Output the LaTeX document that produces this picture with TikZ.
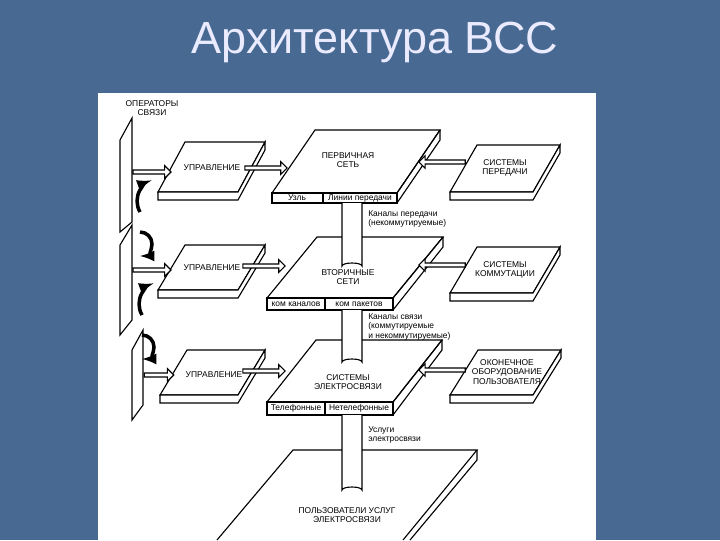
\documentclass[tikz,border=0pt]{standalone}
\usepackage{fontspec}
\setmainfont{Liberation Sans}
\usetikzlibrary{shapes.arrows}
\newcommand\myplate[6]{%
 \fill[white] (#1,#3) -- (#2,#3) -- ({#2+#4},{#3-#5}) -- ({#1+#4},{#3-#5}) -- cycle;
 \draw[thick] (#1,#3) -- (#2,#3) -- ({#2+#4},{#3-#5}) -- ({#1+#4},{#3-#5}) -- cycle;
 \draw[thick,fill=white] (#1,#3) -- (#1,{#3+#6}) -- (#2,{#3+#6}) -- ({#2+#4},{#3-#5+#6}) -- ({#2+#4},{#3-#5}) -- (#2,#3) -- cycle;}
\newcommand\mycyl[3]{%
 \fill[white] (#1,#2) rectangle ({#1+20},#3);
 \draw[thick] (#1,#2) -- (#1,#3) arc[start angle=180,end angle=360,x radius=10,y radius=3] -- ({#1+20},#2);}
\tikzset{lbl/.style={font=\fontsize{6}{6.8}\selectfont,align=center,inner sep=1pt},
 ann/.style={font=\fontsize{6}{6.8}\selectfont,align=left,anchor=north west,inner sep=0pt},
 barr/.style={single arrow,draw,thick,fill=white,minimum width=9pt,single arrow head extend=2pt,inner sep=0.5pt}}
\begin{document}
\begin{tikzpicture}[x=0.025cm,y=-0.025cm]
\fill[fill={rgb,255:red,72;green,106;blue,146}] (0,0) rectangle (720,540);
\useasboundingbox (0,0) rectangle (720,540);
\node[font=\fontsize{32}{36}\selectfont,text=white!92!blue] (title) at (375,42) {Архитектура ВСС};
\begin{scope}
\clip (98,93) rectangle (596,540);
\fill[white] (98,93) rectangle (596,540);
% operators panel
\draw[thick,fill=white] (120,232) -- (120,140) -- (132,118) -- (132,222) -- cycle;
\draw[thick,fill=white] (120,335) -- (120,245) -- (132,225) -- (132,320) -- cycle;
\draw[thick,fill=white] (132,420) -- (132,350) -- (143,330) -- (143,405) -- cycle;
\draw[line width=2.5pt,->,>=latex] (140,232) arc[start angle=-90,end angle=90,radius=12];
\draw[line width=2.5pt,->,>=latex] (140,212) arc[start angle=150,end angle=250,radius=22];
\draw[line width=2.5pt,->,>=latex] (142,335) arc[start angle=-90,end angle=90,radius=12];
\draw[line width=2.5pt,->,>=latex] (142,315) arc[start angle=150,end angle=250,radius=22];
\node[lbl] (op) at (152,108) {ОПЕРАТОРЫ\\СВЯЗИ};
% row 1
\myplate{158}{238}{192}{27}{50}{8}
\node[lbl] (u1) at (212,168) {УПРАВЛЕНИЕ};
\myplate{272}{397}{193}{43}{63}{0}
\node[lbl] (p1) at (348,160) {ПЕРВИЧНАЯ\\СЕТЬ};
\draw[thick,fill=white] (272,193) rectangle (323,203); \draw[thick,fill=white] (323,193) rectangle (397,203);
\draw[thick] (397,203) -- (440,140) -- (440,130);
\node[lbl] (uz) at (297,198) {Узль};
\node[lbl] (lp) at (360,198) {Линии передачи};
\myplate{450}{533}{192}{27}{47}{8}
\node[lbl] (s1) at (505,168) {СИСТЕМЫ\\ПЕРЕДАЧИ};
% row 2
\myplate{158}{238}{290}{27}{45}{8}
\node[lbl] (u2) at (212,268) {УПРАВЛЕНИЕ};
\myplate{267}{393}{298}{50}{61}{0}
\node[lbl] (p2) at (348,277) {ВТОРИЧНЫЕ\\СЕТИ};
\draw[thick,fill=white] (267,298) rectangle (325,310); \draw[thick,fill=white] (325,298) rectangle (393,310);
\draw[thick] (393,310) -- (443,247) -- (443,237);
\node[lbl] (kk) at (296,304) {ком каналов};
\node[lbl] (kp) at (359,304) {ком пакетов};
\myplate{450}{533}{293}{27}{46}{8}
\node[lbl] (s2) at (505,270) {СИСТЕМЫ\\КОММУТАЦИИ};
% row 3
\myplate{160}{238}{395}{27}{45}{8}
\node[lbl] (u3) at (214,375) {УПРАВЛЕНИЕ};
\myplate{267}{393}{402}{49}{62}{0}
\node[lbl] (p3) at (348,382) {СИСТЕМЫ\\ЭЛЕКТРОСВЯЗИ};
\draw[thick,fill=white] (267,402) rectangle (325,415); \draw[thick,fill=white] (325,402) rectangle (393,415);
\draw[thick] (393,415) -- (442,350) -- (442,340);
\node[lbl] (tf) at (296,408) {Телефонные};
\node[lbl] (ntf) at (359,408) {Нетелефонные};
\myplate{450}{533}{395}{28}{45}{8}
\node[lbl] (s3) at (507,372) {ОКОНЕЧНОЕ\\ОБОРУДОВАНИЕ\\ПОЛЬЗОВАТЕЛЯ};
% users plate
\fill[white] (217,540) -- (293,450) -- (477,450) -- (403,540) -- cycle;
\draw[thick] (217,540) -- (293,450) -- (477,450) -- (403,540);
\draw[thick] (477,450) -- (477,460) -- (410,540);
\node[lbl] (us) at (347,515) {ПОЛЬЗОВАТЕЛИ УСЛУГ\\ЭЛЕКТРОСВЯЗИ};
% cylinders
\mycyl{342}{203}{266}
\mycyl{342}{310}{362}
\mycyl{342}{415}{490}
\node[ann] (a1) at (368,210) {Каналы передачи\\(некоммутируемые)};
\node[ann] (a2) at (368,313) {Каналы связи\\(коммутируемые\\и некоммутируемые)};
\node[ann] (a3) at (368,426) {Услуги\\электросвязи};
% block arrows
\node[barr,minimum height=27pt] (ao1) at (151,172) {};
\node[barr,minimum height=27pt] (ao2) at (151,270) {};
\node[barr,minimum height=21pt] (ao3) at (158,375) {};
\node[barr,minimum height=30pt] (ac1) at (265,168) {};
\node[barr,minimum height=30pt] (ac2) at (263,266) {};
\node[barr,minimum height=30pt] (ac3) at (263,371) {};
\node[barr,minimum height=33pt,shape border rotate=180] (as1) at (443,162) {};
\node[barr,minimum height=33pt,shape border rotate=180] (as2) at (443,265) {};
\node[barr,minimum height=33pt,shape border rotate=180] (as3) at (443,370) {};
\end{scope}
\end{tikzpicture}
\end{document}
